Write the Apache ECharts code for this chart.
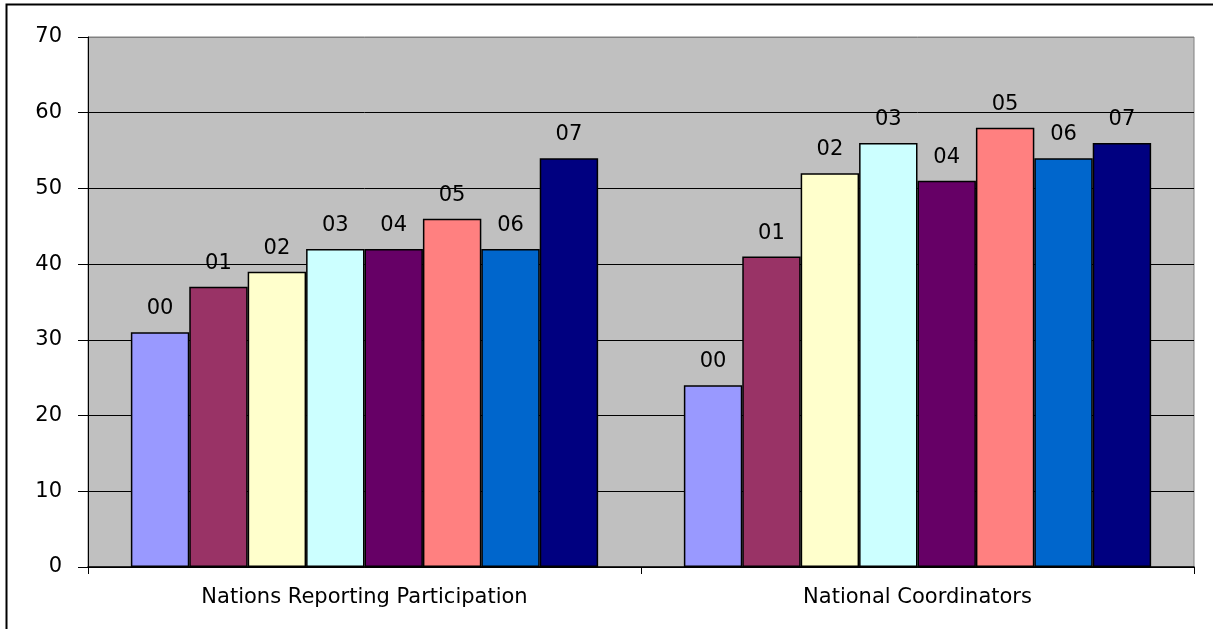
<!DOCTYPE html>
<html>
<head>
<meta charset="utf-8">
<script src="https://cdn.jsdelivr.net/npm/echarts@6/dist/echarts.min.js"></script>
<style>
html,body{margin:0;padding:0;background:#fff;}
#chart{width:1213px;height:629px;}
</style>
</head>
<body>
<div id="chart"></div>
<script>
const categories = ['Nations Reporting Participation', 'National Coordinators'];
const seriesNames = ['00', '01', '02', '03', '04', '05', '06', '07'];
const values00 = [31, 24];
const values01 = [37, 41];
const values02 = [39, 52];
const values03 = [42, 56];
const values04 = [42, 51];
const values05 = [46, 58];
const values06 = [42, 54];
const values07 = [54, 56];
const seriesColors = ['#9999FF', '#993366', '#FFFFCC', '#CCFFFF', '#660066', '#FF8080', '#0066CC', '#000080'];
const yTicks = [0, 10, 20, 30, 40, 50, 60, 70];

const allValues = [values00, values01, values02, values03, values04, values05, values06, values07];
const font = 'DejaVu Sans';

const chart = echarts.init(document.getElementById('chart'), null, {renderer: 'canvas'});
chart.setOption({
  animation: false,
  backgroundColor: '#ffffff',
  grid: {
    left: 88, right: 19, top: 37, bottom: 62,
    show: true,
    backgroundColor: '#C0C0C0',
    borderColor: '#808080',
    borderWidth: 1
  },
  xAxis: {
    type: 'category',
    data: categories,
    axisLine: {show: true, lineStyle: {color: '#000', width: 1.5}},
    axisTick: {show: true, length: 7, alignWithLabel: false, lineStyle: {color: '#000'}},
    axisLabel: {color: '#000', fontFamily: font, fontSize: 21, margin: 20}
  },
  yAxis: {
    type: 'value',
    min: yTicks[0],
    max: yTicks[yTicks.length - 1],
    interval: 10,
    axisLine: {show: true, lineStyle: {color: '#000', width: 1}},
    axisTick: {show: true, length: 10, lineStyle: {color: '#000'}},
    axisLabel: {color: '#000', fontFamily: font, fontSize: 21, margin: 26},
    splitLine: {show: true, lineStyle: {color: ['#000','#000','#000','#000','#000','#000','#000','#808080'], width: 1}}
  },
  graphic: [{
    type: 'rect',
    left: 4, top: 2,
    shape: {x: 0, y: 0, width: 1240, height: 660},
    style: {fill: 'none', stroke: '#000', lineWidth: 2},
    silent: true
  }],
  series: seriesNames.map((name, i) => ({
    name: name,
    type: 'bar',
    data: allValues[i],
    barGap: '0%',
    barCategoryGap: '15.5%',
    itemStyle: {color: seriesColors[i], borderColor: '#000', borderWidth: 1.5},
    label: {
      show: true,
      position: 'top',
      distance: 13,
      formatter: '{a}',
      color: '#000',
      fontFamily: font,
      fontSize: 21
    }
  }))
});
</script>
</body>
</html>
